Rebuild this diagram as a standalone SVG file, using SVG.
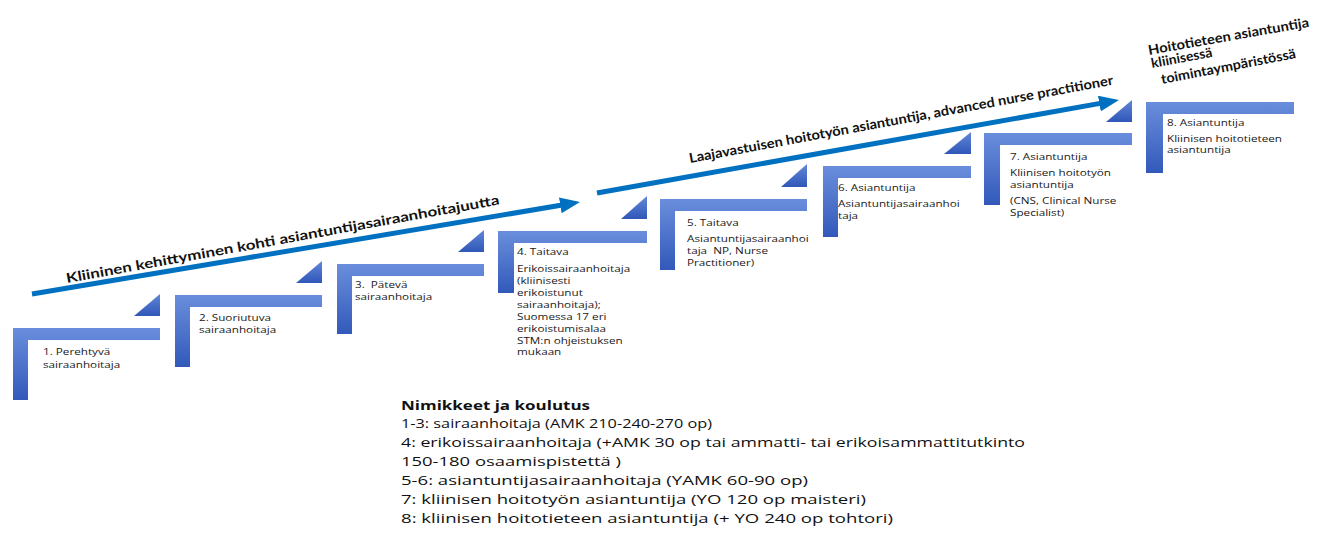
<svg xmlns="http://www.w3.org/2000/svg" width="1325" height="538" viewBox="0 0 1325 538">
<defs>
<linearGradient id="gL" x1="0" y1="0" x2="0" y2="1">
<stop offset="0" stop-color="#6a8edc"/>
<stop offset="1" stop-color="#3259ba"/>
</linearGradient>
<linearGradient id="gT" x1="0" y1="0" x2="0" y2="1">
<stop offset="0" stop-color="#6287d8"/>
<stop offset="1" stop-color="#2f57b8"/>
</linearGradient>
<marker id="ah" markerWidth="20" markerHeight="16" refX="8" refY="8" orient="auto" markerUnits="userSpaceOnUse">
<path d="M0,0 L20,8 L0,16 Z" fill="#0070c0"/>
</marker>
<style>
.step{fill:url(#gL)}
.tri{fill:url(#gT)}
.lbl{font-family:"Open Sans","DejaVu Sans",sans-serif;font-size:9.6px;fill:#1a1a1a}
.big{font-family:"Lato","Liberation Sans",sans-serif;font-weight:bold;font-size:13.5px;fill:#111}
.bot{font-family:"Open Sans","Liberation Sans",sans-serif;font-size:13px;fill:#111}
.arr{stroke:#0070c0;stroke-width:5;fill:none}
</style>
</defs>
<rect width="1325" height="538" fill="#ffffff"/>

<g id="connectors">
<line class="arr" x1="32" y1="294" x2="568.2" y2="204" marker-end="url(#ah)"/>
<line class="arr" x1="597" y1="193" x2="1107.2" y2="102.1" marker-end="url(#ah)"/>
</g>

<g id="step1">
<path class="step" d="M13,328 H160 V340 H28 V400 H13 Z"/>
<path class="tri" d="M134,316 L160,294 L160,316 Z"/>
<g transform="translate(43 0) scale(1.22 1)"><text class="lbl" y="355"><tspan x="0">1. Perehtyvä</tspan><tspan x="0" y="368">sairaanhoitaja</tspan></text></g>
</g>
<g id="step2">
<path class="step" d="M175,295 H322 V307 H190 V367 H175 Z"/>
<path class="tri" d="M296,283 L322,261 L322,283 Z"/>
<g transform="translate(199 0) scale(1.22 1)"><text class="lbl" y="321"><tspan x="0">2. Suoriutuva</tspan><tspan x="0" y="333">sairaanhoitaja</tspan></text></g>
</g>
<g id="step3">
<path class="step" d="M337,264 H484 V276 H352 V334 H337 Z"/>
<path class="tri" d="M458,252 L484,230 L484,252 Z"/>
<g transform="translate(355 0) scale(1.22 1)"><text class="lbl" y="288" xml:space="preserve"><tspan x="0">3.  Pätevä</tspan><tspan x="0" y="300">sairaanhoitaja</tspan></text></g>
</g>
<g id="step4">
<path class="step" d="M498,231 H647 V243 H514 V293 H498 Z"/>
<path class="tri" d="M621,219 L647,196 L647,219 Z"/>
<g transform="translate(517 0) scale(1.22 1)"><text class="lbl" y="255"><tspan x="0">4. Taitava</tspan><tspan x="0" y="272">Erikoissairaanhoitaja</tspan><tspan x="0" y="284">(kliinisesti</tspan><tspan x="0" y="296">erikoistunut</tspan><tspan x="0" y="308">sairaanhoitaja);</tspan><tspan x="0" y="320">Suomessa 17 eri</tspan><tspan x="0" y="332">erikoistumisalaa</tspan><tspan x="0" y="344">STM:n ohjeistuksen</tspan><tspan x="0" y="355">mukaan</tspan></text></g>
</g>
<g id="step5">
<path class="step" d="M660,199 H807 V211 H675 V270 H660 Z"/>
<path class="tri" d="M781,187 L807,164 L807,187 Z"/>
<g transform="translate(687 0) scale(1.22 1)"><text class="lbl" y="226" xml:space="preserve"><tspan x="0">5. Taitava</tspan><tspan x="0" y="242">Asiantuntijasairaanhoi</tspan><tspan x="0" y="254">taja  NP, Nurse</tspan><tspan x="0" y="266">Practitioner)</tspan></text></g>
</g>
<g id="step6">
<path class="step" d="M823,166 H971 V178 H838 V237 H823 Z"/>
<path class="tri" d="M944,154 L971,132 L971,154 Z"/>
<g transform="translate(838 0) scale(1.22 1)"><text class="lbl" y="191"><tspan x="0">6. Asiantuntija</tspan><tspan x="0" y="207">Asiantuntijasairaanhoi</tspan><tspan x="0" y="219">taja</tspan></text></g>
</g>
<g id="step7">
<path class="step" d="M984,133 H1132 V145 H1000 V205 H984 Z"/>
<path class="tri" d="M1106,122 L1132,100 L1132,122 Z"/>
<g transform="translate(1010 0) scale(1.22 1)"><text class="lbl" y="160"><tspan x="0">7. Asiantuntija</tspan><tspan x="0" y="176">Kliinisen hoitotyön</tspan><tspan x="0" y="188">asiantuntija</tspan><tspan x="0" y="204">(CNS, Clinical Nurse</tspan><tspan x="0" y="216">Specialist)</tspan></text></g>
</g>
<g id="step8">
<path class="step" d="M1146,102 H1294 V114 H1163 V173 H1146 Z"/>
<g transform="translate(1167 0) scale(1.22 1)"><text class="lbl" y="126"><tspan x="0">8. Asiantuntija</tspan><tspan x="0" y="142">Kliinisen hoitotieteen</tspan><tspan x="0" y="153">asiantuntija</tspan></text></g>
</g>

<g id="label-clinical">
<text class="big" transform="translate(67 283) rotate(-10.3)" textLength="440" lengthAdjust="spacingAndGlyphs">Kliininen kehittyminen kohti asiantuntijasairaanhoitajuutta</text>
</g>
<g id="label-advanced">
<text class="big" transform="translate(690 163) rotate(-10.5)" textLength="431" lengthAdjust="spacingAndGlyphs">Laajavastuisen hoitotyön asiantuntija, advanced nurse practitioner</text>
</g>
<g id="label-science">
<text class="big" transform="translate(1149 55) rotate(-10)" textLength="163" lengthAdjust="spacingAndGlyphs">Hoitotieteen asiantuntija</text>
<text class="big" transform="translate(1152 68) rotate(-10.5)" textLength="62" lengthAdjust="spacingAndGlyphs">kliinisessä</text>
<text class="big" transform="translate(1162 84) rotate(-11)" textLength="137" lengthAdjust="spacingAndGlyphs">toimintaympäristössä</text>
</g>

<g id="legend">
<text class="bot" x="401" y="409.5" font-weight="bold" textLength="189" lengthAdjust="spacingAndGlyphs">Nimikkeet ja koulutus</text>
<text class="bot" x="401" y="428" textLength="311" lengthAdjust="spacingAndGlyphs">1-3: sairaanhoitaja (AMK 210-240-270 op)</text>
<text class="bot" x="401" y="447" textLength="624" lengthAdjust="spacingAndGlyphs">4: erikoissairaanhoitaja (+AMK 30 op tai ammatti- tai erikoisammattitutkinto</text>
<text class="bot" x="401" y="466" textLength="220" lengthAdjust="spacingAndGlyphs">150-180 osaamispistettä )</text>
<text class="bot" x="401" y="485" textLength="407" lengthAdjust="spacingAndGlyphs">5-6: asiantuntijasairaanhoitaja (YAMK 60-90 op)</text>
<text class="bot" x="401" y="504" textLength="465" lengthAdjust="spacingAndGlyphs">7: kliinisen hoitotyön asiantuntija (YO 120 op maisteri)</text>
<text class="bot" x="401" y="523" textLength="492" lengthAdjust="spacingAndGlyphs">8: kliinisen hoitotieteen asiantuntija (+ YO 240 op tohtori)</text>
</g>
</svg>
